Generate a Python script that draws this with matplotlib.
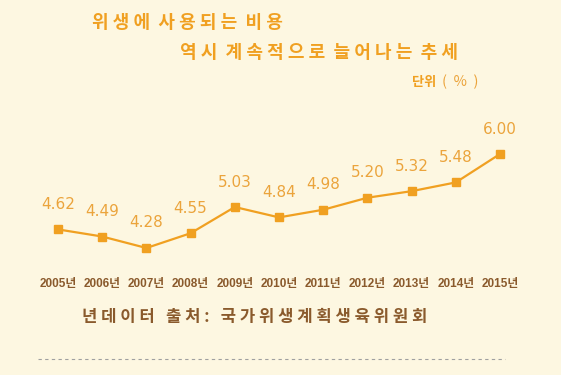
import matplotlib
matplotlib.use("Agg")
import matplotlib.pyplot as plt
import matplotlib.transforms as mtransforms

years = [2005, 2006, 2007, 2008, 2009, 2010, 2011, 2012, 2013, 2014, 2015]
values = [4.62, 4.49, 4.28, 4.55, 5.03, 4.84, 4.98, 5.20, 5.32, 5.48, 6.00]
year_labels = [f"{y}년" for y in years]

title1 = "위 생 에  사 용 되 는  비 용"
title2 = "역 시  계 속 적 으 로  늘 어 나 는  추 세"
unit_bold = "단위"
unit_rest = "(  %  )"
source = "년 데 이 터   출 처 :   국 가 위 생 계 획 생 육 위 원 회"

BG = "#fdf7e1"
ORANGE = "#f0a021"
LABEL = "#eba43c"
BROWN = "#8a5a2c"
KR = ["Noto Sans CJK KR", "DejaVu Sans"]

fig = plt.figure(figsize=(5.61, 3.75), dpi=100)
fig.patch.set_facecolor(BG)
ax = fig.add_axes([0, 0, 1, 1])
ax.set_facecolor(BG)
ax.axis("off")

x = list(range(len(years)))
ax.plot(x, values, color=ORANGE, lw=1.6, marker="s", ms=5.5,
        markerfacecolor=ORANGE, markeredgecolor=ORANGE)
ax.set_xlim(-1.312, 11.38)
ax.set_ylim(1.956, 8.818)

for xi, v in zip(x, values):
    ax.annotate(f"{v:.2f}", (xi, v), xytext=(0, 18), textcoords="offset points",
                ha="center", va="center", fontsize=11, color=LABEL,
                family="DejaVu Sans")

trans = mtransforms.blended_transform_factory(ax.transData, ax.transAxes)
for xi, lab in zip(x, year_labels):
    ax.text(xi, 0.243, lab, transform=trans, ha="center", va="center",
            fontsize=8.5, color=BROWN, fontweight="bold",
            family=["Liberation Sans", "Noto Sans CJK KR"])

fig.text(0.164, 0.941, title1, ha="left", va="center", fontsize=13,
         color=ORANGE, fontweight="bold", family=KR)
fig.text(0.321, 0.859, title2, ha="left", va="center", fontsize=13,
         color=ORANGE, fontweight="bold", family=KR)
fig.text(0.734, 0.781, unit_bold, ha="left", va="center", fontsize=9.5,
         color=ORANGE, fontweight="bold", family=KR)
fig.text(0.787, 0.781, unit_rest, ha="left", va="center", fontsize=10.5,
         color=LABEL, family=KR)
fig.text(0.146, 0.155, source, ha="left", va="center", fontsize=12,
         color=BROWN, fontweight="bold", family=KR)

fig.add_artist(plt.Line2D([0.068, 0.9], [0.043, 0.043], transform=fig.transFigure,
                          color="#a0a0a0", lw=0.8, ls=(0, (3, 3))))

fig.savefig("out.png", dpi=100, facecolor=BG)
